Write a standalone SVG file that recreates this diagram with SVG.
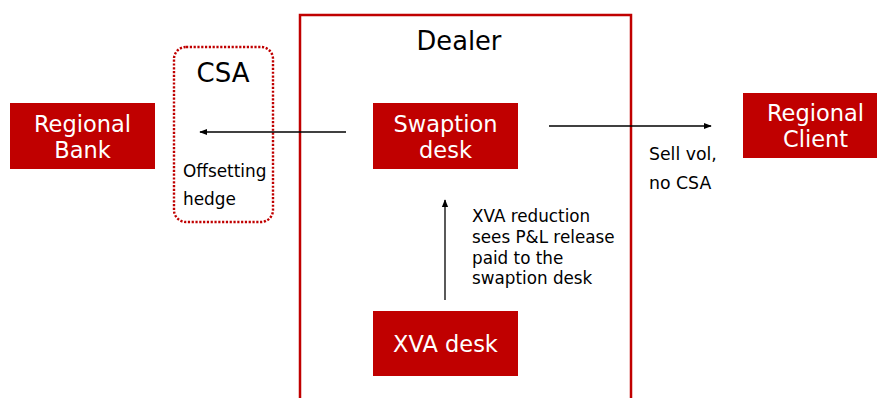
<svg xmlns="http://www.w3.org/2000/svg" width="877" height="398" viewBox="0 0 877 398">
<defs>
<style>
.box{fill:#C00000}
.bt{fill:#fff;font-family:"DejaVu Sans",Verdana,sans-serif;font-size:22.5px;text-anchor:middle}
.lt{fill:#000;font-family:"DejaVu Sans",Verdana,sans-serif}
.con{stroke:#000;stroke-width:1.3;fill:none;marker-end:url(#ah)}
</style>
<marker id="ah" viewBox="0 0 10 10" refX="9" refY="5" markerWidth="8" markerHeight="8" markerUnits="userSpaceOnUse" orient="auto">
<path d="M0,1 L10,5 L0,9 Z" fill="#000"/>
</marker>
</defs>
<rect width="877" height="398" fill="#fff"/>
<g id="dealer">
<rect x="300" y="15" width="331" height="400" fill="none" stroke="#C00000" stroke-width="2.5"/>
<text class="lt" x="459" y="50" font-size="25.7" text-anchor="middle">Dealer</text>
</g>
<g id="csa">
<rect x="174" y="47" width="99" height="175" rx="12" fill="none" stroke="#C00000" stroke-width="2.4" stroke-dasharray="2.2 1.6"/>
<text class="lt" x="223" y="82" font-size="26" text-anchor="middle">CSA</text>
<text class="lt" x="183" y="177" font-size="16.9">Offsetting</text>
<text class="lt" x="183" y="205" font-size="16.9">hedge</text>
</g>
<g id="regional-bank">
<rect class="box" x="10" y="103" width="145" height="66"/>
<text class="bt" x="82.5" y="132">Regional</text>
<text class="bt" x="82.5" y="158">Bank</text>
</g>
<g id="swaption-desk">
<rect class="box" x="373" y="103" width="145" height="66"/>
<text class="bt" x="445.5" y="132">Swaption</text>
<text class="bt" x="445.5" y="158">desk</text>
</g>
<g id="regional-client">
<rect class="box" x="743" y="93" width="145" height="65"/>
<text class="bt" x="815.5" y="121">Regional</text>
<text class="bt" x="815.5" y="147">Client</text>
</g>
<g id="xva-desk">
<rect class="box" x="373" y="311" width="145" height="65"/>
<text class="bt" x="445.5" y="352" font-size="23">XVA desk</text>
</g>
<g id="connectors">
<line class="con" x1="346" y1="132" x2="200" y2="132"/>
<line class="con" x1="549" y1="126" x2="711" y2="126"/>
<line class="con" x1="445" y1="300" x2="445" y2="200"/>
</g>
<g id="labels">
<text class="lt" x="649" y="160" font-size="17.3">Sell vol,</text>
<text class="lt" x="649" y="189" font-size="17.3">no CSA</text>
<text class="lt" x="472" y="222" font-size="16.8">XVA reduction</text>
<text class="lt" x="472" y="243" font-size="16.8">sees P&amp;L release</text>
<text class="lt" x="472" y="264" font-size="16.8">paid to the</text>
<text class="lt" x="472" y="284" font-size="16.8">swaption desk</text>
</g>
</svg>
